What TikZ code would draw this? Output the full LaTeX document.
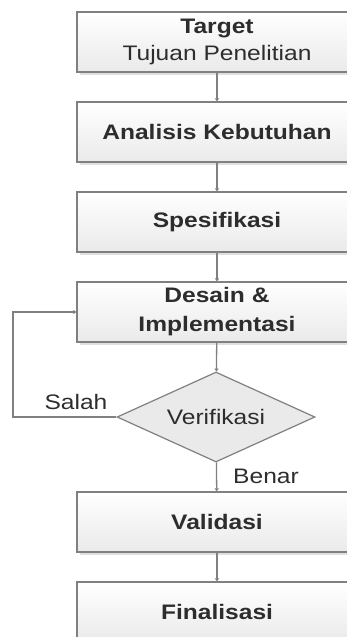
\documentclass[tikz,border=0pt]{standalone}
\usepackage{fontspec}
\setmainfont{Liberation Sans}[FakeStretch=1.17]
\usetikzlibrary{shapes.geometric,shadows,arrows.meta}
\definecolor{lineclr}{RGB}{128,128,128}
\definecolor{txtclr}{RGB}{45,45,45}
\definecolor{shadeclr}{RGB}{234,234,234}
\begin{document}
\begin{tikzpicture}[x=1pt,y=-1pt]
\tikzstyle{every node}+=[inner sep=0pt, text=txtclr, font=\fontsize{21}{27}\selectfont]
\tikzstyle{stepbox}=[draw=lineclr, line width=1.2pt, top color=white, bottom color=shadeclr,
  minimum width=280pt, minimum height=60pt, align=center, font=\fontsize{21}{29}\selectfont\bfseries,
  drop shadow={shadow xshift=3pt, shadow yshift=-3pt, fill=black!12, opacity=1}]
\tikzstyle{decide}=[diamond, draw=lineclr, line width=1.2pt, fill=shadeclr, shape aspect=2.2,
  minimum width=198pt, minimum height=90pt]
\tikzstyle{flow}=[draw=lineclr, line width=1.3pt, -{Triangle[length=3pt,width=4pt]}]
\useasboundingbox (0,0) rectangle (347,637);
\node [stepbox] (target) at (217,42) {Target\\[-2pt]\mdseries Tujuan Penelitian};
\node [stepbox] (analisis) at (217,132) {Analisis Kebutuhan};
\node [stepbox] (spesifikasi) at (217,222) {Spesifikasi};
\node [stepbox] (desain) at (217,312) {Desain \&\\Implementasi};
\node [decide] (verifikasi) at (216,417) {Verifikasi};
\node [stepbox] (validasi) at (217,522) {Validasi};
\node [stepbox] (finalisasi) at (217,612) {Finalisasi};
\coordinate (balik) at (13,417);
\draw [flow] (target) -- (analisis);
\draw [flow] (analisis) -- (spesifikasi);
\draw [flow] (spesifikasi) -- (desain);
\draw [flow] (desain) -- (verifikasi);
\draw [flow] (verifikasi) -- (validasi);
\draw [flow] (validasi) -- (finalisasi);
\draw [flow] (verifikasi.west) -- (balik) |- (desain.west);
\node (salah) at (76,402) {Salah};
\node (benar) at (266,476) {Benar};
\end{tikzpicture}
\end{document}
